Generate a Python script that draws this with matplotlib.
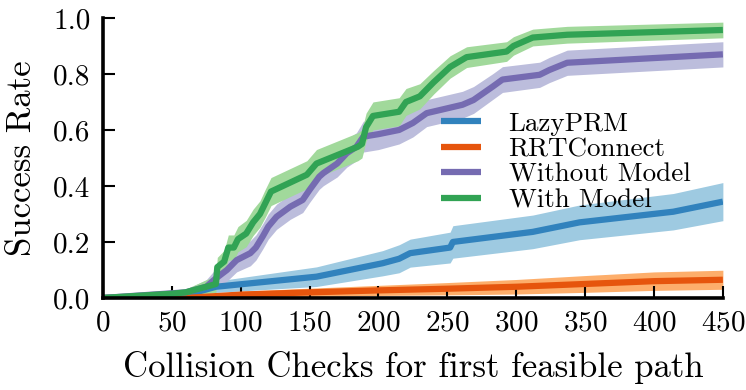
import numpy as np
import matplotlib
matplotlib.use("Agg")
import matplotlib.pyplot as plt

# values
lazy_x = [0, 60, 82, 155, 203, 215, 223, 252, 254, 312, 346, 414, 450]
lazy_y = [0.0, 0.01, 0.04, 0.076, 0.124, 0.14, 0.16, 0.18, 0.20, 0.236, 0.27, 0.308, 0.344]
lazy_err = [0.0, 0.008, 0.02, 0.035, 0.045, 0.05, 0.05, 0.055, 0.058, 0.06, 0.062, 0.065, 0.068]

rrt_x = [0, 60, 100, 150, 200, 250, 300, 350, 400, 450]
rrt_y = [0.0, 0.0, 0.012, 0.02, 0.027, 0.033, 0.04, 0.05, 0.06, 0.065]
rrt_err = [0.0, 0.005, 0.012, 0.015, 0.018, 0.022, 0.026, 0.03, 0.033, 0.034]

nomodel_x = [0, 60, 75, 82, 90, 97, 107, 111, 116, 120, 126, 136, 145, 150, 157, 160,
             170, 177, 184, 189, 200, 215, 225, 235, 261, 269, 283, 290, 317, 324, 337, 450]
nomodel_y = [0.0, 0.02, 0.04, 0.07, 0.10, 0.135, 0.16, 0.18, 0.22, 0.255, 0.29, 0.326, 0.35, 0.386, 0.433, 0.446,
             0.48, 0.517, 0.54, 0.576, 0.585, 0.60, 0.625, 0.66, 0.69, 0.707, 0.755, 0.78, 0.797, 0.814, 0.84, 0.87]
nomodel_err = [0.0, 0.01, 0.025, 0.035, 0.04, 0.042, 0.045, 0.045, 0.045, 0.045, 0.045, 0.045, 0.045, 0.045, 0.045, 0.045,
               0.048, 0.05, 0.05, 0.055, 0.055, 0.05, 0.05, 0.048, 0.048, 0.048, 0.046, 0.046, 0.045, 0.045, 0.045, 0.045]

model_x = [0, 50, 60, 75, 82, 83, 88, 91, 95, 98, 104, 109, 114, 118, 122, 135, 148, 155, 170,
           185, 188, 191, 196, 215, 220, 230, 240, 252, 264, 293, 298, 312, 337, 450]
model_y = [0.0, 0.015, 0.02, 0.04, 0.05, 0.11, 0.13, 0.18, 0.18, 0.21, 0.23, 0.27, 0.30, 0.34, 0.38, 0.41, 0.44, 0.48, 0.51,
           0.54, 0.55, 0.61, 0.65, 0.665, 0.70, 0.72, 0.77, 0.825, 0.86, 0.88, 0.90, 0.93, 0.94, 0.957]
model_err = [0.0, 0.01, 0.012, 0.025, 0.03, 0.035, 0.04, 0.045, 0.045, 0.045, 0.047, 0.047, 0.047, 0.05, 0.05, 0.05, 0.05, 0.05, 0.05,
             0.05, 0.05, 0.05, 0.05, 0.05, 0.048, 0.045, 0.042, 0.04, 0.037, 0.035, 0.033, 0.03, 0.03, 0.028]

plt.rcParams['font.family'] = 'cmr10'
plt.rcParams['mathtext.fontset'] = 'cm'
plt.rcParams['axes.formatter.use_mathtext'] = True
plt.rcParams['font.size'] = 21

fig = plt.figure(figsize=(7.46, 3.9), dpi=100)
ax = fig.add_axes([0.138, 0.236, 0.831, 0.718])

series = [
    (lazy_x, lazy_y, lazy_err, '#3182bd', '#9ecae1', 'LazyPRM'),
    (rrt_x, rrt_y, rrt_err, '#e6550d', '#fdae6b', 'RRTConnect'),
    (nomodel_x, nomodel_y, nomodel_err, '#756bb1', '#bcbddc', 'Without Model'),
    (model_x, model_y, model_err, '#31a354', '#a1d99b', 'With Model'),
]
for x, y, e, c, fc, lab in series:
    x = np.array(x); y = np.array(y); e = np.array(e)
    ax.fill_between(x, y - e, y + e, color=fc, lw=0)
    ax.plot(x, y, color=c, lw=4.5, label=lab, solid_capstyle='butt')

ax.set_xlim(0, 450)
ax.set_ylim(0, 1.0)
ax.set_xticks(np.arange(0, 451, 50))
ax.set_yticks(np.arange(0, 1.01, 0.2))
ax.set_yticklabels(['0.0', '0.2', '0.4', '0.6', '0.8', '1.0'])
for s in ['top', 'right']:
    ax.spines[s].set_visible(False)
for s in ['left', 'bottom']:
    ax.spines[s].set_linewidth(2.6)
ax.tick_params(direction='in', length=8.5, width=1.5, pad=9, labelsize=21)
ax.set_xlabel('Collision Checks for first feasible path', fontsize=25, labelpad=10)
ax.set_ylabel('Success Rate', fontsize=25, labelpad=11)

ax.legend(loc='upper left', bbox_to_anchor=(0.545, 0.665), frameon=False,
          borderpad=0, borderaxespad=0, handlelength=1.5, labelspacing=0.06,
          handletextpad=1.0, fontsize=19.5)

fig.savefig('out.png', dpi=100)
